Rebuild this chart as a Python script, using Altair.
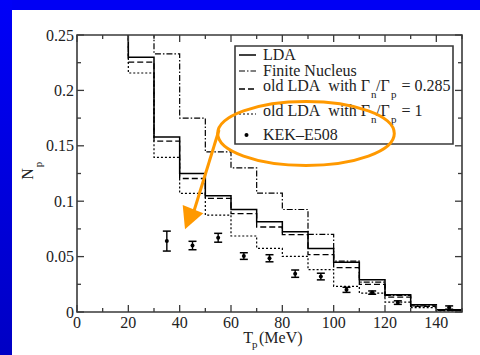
import altair as alt
import pandas as pd

# ---------------------------------------------------------------------------
# Proton spectra N_p(T_p): histogram bins (lower edges, MeV) and bin contents
# ---------------------------------------------------------------------------
bin_edges = [10, 20, 30, 40, 50, 60, 70, 80, 90, 100, 110, 120, 130, 140]
upper_edge = 150

lda = [0.30, 0.230, 0.158, 0.125, 0.105, 0.0925, 0.0815, 0.0725, 0.0572,
       0.0448, 0.0292, 0.0155, 0.0066, 0.0020]
finite_nucleus = [0.30, 0.29, 0.233, 0.175, 0.1445, 0.130, 0.1072, 0.0925,
                  0.0700, 0.0460, 0.0270, 0.0150, 0.0055, 0.0015]
old_lda_0285 = [0.30, 0.2256, 0.1543, 0.1205, 0.1026, 0.0887, 0.0767, 0.0698,
                0.0517, 0.0400, 0.0250, 0.0135, 0.0050, 0.0015]
old_lda_1 = [0.30, 0.2157, 0.1396, 0.1071, 0.0875, 0.0686, 0.0575, 0.0502,
             0.0382, 0.0232, 0.0171, 0.0090, 0.0040, 0.0010]

# KEK-E508 measurement
kek_t = [35, 45, 55, 65, 75, 85, 95, 105, 115, 125, 145]
kek_np = [0.064, 0.060, 0.067, 0.0505, 0.0485, 0.0346, 0.032, 0.020, 0.0175,
          0.0085, 0.004]
kek_err = [0.009, 0.0038, 0.004, 0.003, 0.0032, 0.0033, 0.003, 0.0023, 0.0015,
           0.0016, 0.0015]

# Axis ticks
x_major = [0, 20, 40, 60, 80, 100, 120, 140]
x_minor = [10, 30, 50, 70, 90, 110, 130, 150]
y_major = [0, 0.05, 0.10, 0.15, 0.20, 0.25]
y_minor = [0.025, 0.075, 0.125, 0.175, 0.225]
y_labels = ["0", "0.05", "0.1", "0.15", "0.2", "0.25"]

# ---------------------------------------------------------------------------
# Layout (canvas pixels)
# ---------------------------------------------------------------------------
LEFT, TOP, RIGHT, BOTTOM = 77, 35, 18, 43
W, H = 385, 277
FONT = "Liberation Serif, DejaVu Serif, serif"
INK = "black"
FRAME = "#3a3a3a"
TEXT = "#222222"
ORANGE = "#ff9900"


def px(x):
    return x - LEFT


def py(y):
    return y - TOP


one = pd.DataFrame({"k": [0]})

X = lambda f: alt.X(f, type="quantitative",
                    scale=alt.Scale(domain=[0, 150], nice=False, zero=False),
                    axis=None)
Y = lambda f: alt.Y(f, type="quantitative",
                    scale=alt.Scale(domain=[0, 0.25], nice=False, zero=False),
                    axis=None)

layers = []

# Blue page border (top band and left band)
layers.append(alt.Chart(one).mark_rect(color="#0000f4").encode(
    x=alt.value(px(0)), x2=alt.value(px(480)),
    y=alt.value(py(0)), y2=alt.value(py(10))))
layers.append(alt.Chart(one).mark_rect(
    color=alt.LinearGradient(
        gradient="linear",
        stops=[alt.GradientStop(color="#0000f8", offset=0),
               alt.GradientStop(color="#0000c4", offset=1)],
        x1=0, x2=0, y1=0, y2=1)).encode(
    x=alt.value(px(0)), x2=alt.value(px(12)),
    y=alt.value(py(0)), y2=alt.value(py(355))))


def step_frame(values):
    return pd.DataFrame({"t": bin_edges + [upper_edge],
                         "n": values + [values[-1]]})


def hist_layer(values, dash=None, width=1.4):
    kw = dict(interpolate="step-after", clip=True, color=INK, strokeWidth=width)
    if dash is not None:
        kw["strokeDash"] = dash
    return alt.Chart(step_frame(values)).mark_line(**kw).encode(x=X("t"), y=Y("n"))


DASH_FINITE = [6, 2, 1.5, 2]
DASH_OLD285 = [6, 3]
DASH_OLD1 = [2, 2]

layers.append(hist_layer(old_lda_1, DASH_OLD1, 1.2))
layers.append(hist_layer(finite_nucleus, DASH_FINITE, 1.2))
layers.append(hist_layer(old_lda_0285, DASH_OLD285, 1.3))
layers.append(hist_layer(lda, None, 1.5))

# Data points with error bars
kek = pd.DataFrame({"t": kek_t, "n": kek_np, "e": kek_err})
kek["lo"] = kek["n"] - kek["e"]
kek["hi"] = kek["n"] + kek["e"]
layers.append(alt.Chart(kek).mark_rule(color=INK, strokeWidth=1.4).encode(
    x=X("t"), y=Y("lo"), y2="hi"))
for col in ("lo", "hi"):
    layers.append(alt.Chart(kek).mark_tick(
        orient="horizontal", color=INK, size=8, thickness=1.5, opacity=1).encode(
        x=X("t"), y=Y(col)))
layers.append(alt.Chart(kek).mark_point(
    filled=True, color=INK, size=16, opacity=1, shape="circle").encode(
    x=X("t"), y=Y("n")))

# Frame
layers.append(alt.Chart(one).mark_rect(
    fill=None, stroke=FRAME, strokeWidth=1.6).encode(
    x=alt.value(0), x2=alt.value(W), y=alt.value(0), y2=alt.value(H)))

# Inward ticks on all four sides
for vals, length in ((x_major, 7), (x_minor, 4)):
    d = pd.DataFrame({"v": vals})
    layers.append(alt.Chart(d).mark_rule(color=FRAME, strokeWidth=1.3).encode(
        x=X("v"), y=alt.value(H), y2=alt.value(H - length)))
    layers.append(alt.Chart(d).mark_rule(color=FRAME, strokeWidth=1.3).encode(
        x=X("v"), y=alt.value(0), y2=alt.value(length)))
for vals, length in ((y_major, 7), (y_minor, 4)):
    d = pd.DataFrame({"v": vals})
    layers.append(alt.Chart(d).mark_rule(color=FRAME, strokeWidth=1.3).encode(
        y=Y("v"), x=alt.value(0), x2=alt.value(length)))
    layers.append(alt.Chart(d).mark_rule(color=FRAME, strokeWidth=1.3).encode(
        y=Y("v"), x=alt.value(W), x2=alt.value(W - length)))

# Tick labels
xl = pd.DataFrame({"v": x_major, "lab": [str(v) for v in x_major]})
layers.append(alt.Chart(xl).mark_text(
    font=FONT, fontSize=16, color=TEXT, align="center", baseline="alphabetic").encode(
    x=X("v"), y=alt.value(py(328)), text="lab:N"))
yl = pd.DataFrame({"v": y_major, "lab": y_labels})
layers.append(alt.Chart(yl).mark_text(
    font=FONT, fontSize=16, color=TEXT, align="right", baseline="alphabetic", dy=5.5).encode(
    y=Y("v"), x=alt.value(px(74)), text="lab:N"))


def label(txt, x, y, size=16, align="left", angle=0, baseline="alphabetic"):
    kw = dict(font=FONT, fontSize=size, color=TEXT, align=align, baseline=baseline)
    if angle:
        kw["angle"] = angle
    return alt.Chart(one).mark_text(**kw).encode(
        x=alt.value(px(x)), y=alt.value(py(y)), text=alt.value(txt))


# Axis titles
layers.append(label("N", 28, 174, 16, "center", 270, "middle"))
layers.append(label("p", 38.5, 164.5, 11, "center", 270, "middle"))
layers.append(label("T", 253, 343, 16, "right"))
layers.append(label("p", 252, 348, 11, "left"))
layers.append(label("(MeV)", 259, 343, 16, "left"))

# Legend box
layers.append(alt.Chart(one).mark_rect(
    fill="white", stroke=FRAME, strokeWidth=1.6).encode(
    x=alt.value(px(235)), x2=alt.value(px(453)),
    y=alt.value(py(46)), y2=alt.value(py(144))))


def sample(y, dash=None, width=1.4):
    kw = dict(color=INK, strokeWidth=width)
    if dash is not None:
        kw["strokeDash"] = dash
    return alt.Chart(one).mark_rule(**kw).encode(
        x=alt.value(px(239)), x2=alt.value(px(256)),
        y=alt.value(py(y)), y2=alt.value(py(y)))


layers.append(sample(55, None, 1.5))
layers.append(sample(71, DASH_FINITE, 1.2))
layers.append(sample(89, DASH_OLD285, 1.3))
layers.append(sample(114, DASH_OLD1, 1.2))
layers.append(alt.Chart(one).mark_point(
    filled=True, color=INK, size=16, opacity=1, shape="circle").encode(
    x=alt.value(px(246.5)), y=alt.value(py(135))))

layers.append(label("LDA", 263, 60))
layers.append(label("Finite Nucleus", 263, 76))
for base, tail in ((91, "= 0.285"), (116, "= 1")):
    layers.append(label("old LDA\u00a0 with Γ", 263, base))
    layers.append(label("n", 371, base + 7, 11))
    layers.append(label("/Γ", 376, base))
    layers.append(label("p", 391, base + 7, 11))
    layers.append(label(tail, 401.5, base))
layers.append(label("KEK–E508", 263, 140))

# Orange highlight: ellipse around the data legend entry and an arrow to the data
ellipse_path = "M -1 0 A 1 0.362 0 1 0 1 0 A 1 0.362 0 1 0 -1 0 Z"
layers.append(alt.Chart(one).mark_point(
    shape=ellipse_path, filled=False, color=ORANGE, strokeWidth=3,
    size=(2 * 88.3) ** 2, opacity=1).encode(
    x=alt.value(px(306)), y=alt.value(py(133.5))))
layers.append(alt.Chart(one).mark_rule(color=ORANGE, strokeWidth=3).encode(
    x=alt.value(px(219)), y=alt.value(py(130)),
    x2=alt.value(px(194)), y2=alt.value(py(211))))
head_path = "M -10.3 -5 L 10.3 3.3 L -8 19.3 Z"
layers.append(alt.Chart(one).mark_point(
    shape=head_path, filled=True, color=ORANGE, size=4, opacity=1, strokeWidth=0).encode(
    x=alt.value(px(193)), y=alt.value(py(210))))

chart = alt.layer(*layers).properties(
    width=W, height=H,
    padding={"left": LEFT, "top": TOP, "right": RIGHT, "bottom": BOTTOM},
    autosize=alt.AutoSizeParams(type="none"),
    background="white",
).configure_view(stroke=None)

chart.save("out.html", embed_options={"renderer": "svg", "actions": False})
